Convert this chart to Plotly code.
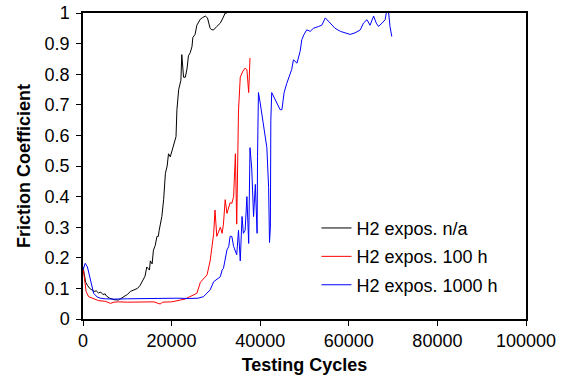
import plotly.graph_objects as go

# Black: no H2 exposure
na_x = [0, 300, 600, 1000, 1500, 2000, 2500, 3000, 3500, 4000, 4500, 5000, 5300, 6000, 7000, 8000,
        9000, 10000, 10700, 11500, 12300, 12900, 13500, 14000, 14400, 15000, 15200, 15600, 15900,
        16300, 16700, 17000, 17200, 17800, 18200, 18600, 19000, 19300, 19700, 20100, 20600, 21000,
        21200, 21600, 22100, 22300, 22700, 23100, 23500, 23800, 24200, 24600, 24800, 25300, 25700,
        26500, 27000, 27600, 28100, 28400, 28700, 29100, 29500, 30200, 31000, 31600, 32100, 32500]
na_y = [0.17, 0.14, 0.12, 0.11, 0.10, 0.095, 0.09, 0.092, 0.085, 0.088, 0.08, 0.082, 0.075, 0.068, 0.063, 0.062,
        0.07, 0.08, 0.09, 0.095, 0.10, 0.11, 0.125, 0.14, 0.17, 0.16, 0.19, 0.18, 0.225,
        0.24, 0.27, 0.27, 0.29, 0.335, 0.39, 0.476, 0.50, 0.54, 0.53, 0.553, 0.575, 0.596,
        0.684, 0.75, 0.78, 0.864, 0.79, 0.79, 0.82, 0.86, 0.87, 0.89, 0.92, 0.93, 0.96,
        0.98, 0.985, 0.99, 0.984, 0.97, 0.95, 0.945, 0.945, 0.956, 0.967, 0.984, 1.0, 1.0]

# Red: 100 h H2 exposure
h100_x = [0, 300, 700, 1260, 2000, 2400, 3500, 5000, 6200, 7000, 8000, 10000, 12000, 14000, 16000,
          17400, 18000, 20000, 21000, 22000, 23000, 24200, 25000, 25700, 26500, 27200, 28000, 28700,
          29500, 29800, 30200, 31000, 31400, 31700, 32100, 32500, 33200, 33600, 34000, 34400, 34700,
          35100, 35500, 36100, 36600, 37000, 37400, 37700]
h100_y = [0.17, 0.13, 0.09, 0.073, 0.068, 0.065, 0.06, 0.058, 0.051, 0.055, 0.056, 0.055, 0.056, 0.057, 0.056,
          0.049, 0.055, 0.056, 0.058, 0.062, 0.065, 0.073, 0.078, 0.084, 0.12, 0.133, 0.144, 0.19,
          0.28, 0.356, 0.27, 0.30, 0.28, 0.31, 0.39, 0.345, 0.38, 0.378, 0.40, 0.54, 0.31,
          0.68, 0.79, 0.81, 0.82, 0.815, 0.74, 0.853]

# Blue: 1000 h H2 exposure
h1000_x = [0, 500, 1000, 1600, 2400, 3200, 3900, 5000, 7000, 10000, 13000, 16000, 19000, 21200,
           24000, 26000, 27200, 28000, 28700, 29500, 30200, 31000, 31400, 31700, 32500, 32900, 33200,
           33600, 34000, 34700, 35100, 35500, 35900, 36200, 36600, 37000, 37400, 37700, 38100, 38500,
           38900, 39300, 39400, 39600, 40000, 40700, 41500, 41900, 42100, 42300, 42400, 42600, 43400,
           44100, 44500, 44900, 45400, 46000, 46400, 47100, 47500, 48300, 49000, 49400, 49900, 50500,
           51300, 52000, 53200, 53900, 54700, 55800, 56900, 58100, 59200, 60300, 61400, 62600, 63300,
           64100, 64800, 65600, 66200, 66700, 67500, 68200, 68700, 69000, 69300, 69700]
h1000_y = [0.16, 0.182, 0.17, 0.128, 0.084, 0.072, 0.068, 0.066, 0.065, 0.066, 0.067, 0.066, 0.067, 0.068,
           0.067, 0.068, 0.073, 0.085, 0.095, 0.122, 0.13, 0.138, 0.16, 0.165, 0.226, 0.237, 0.27,
           0.27, 0.237, 0.21, 0.29, 0.19, 0.335, 0.28, 0.29, 0.40, 0.247, 0.56, 0.49, 0.335,
           0.44, 0.28, 0.53, 0.74, 0.706, 0.63, 0.56, 0.43, 0.25, 0.30, 0.65, 0.74, 0.716,
           0.695, 0.684, 0.684, 0.74, 0.77, 0.787, 0.815, 0.847, 0.836, 0.874, 0.913, 0.93, 0.945,
           0.94, 0.95, 0.956, 0.96, 0.984, 0.967, 0.95, 0.94, 0.935, 0.93, 0.935, 0.945, 0.967,
           0.978, 0.96, 0.99, 0.967, 0.956, 0.967, 0.978, 1.02, 1.0, 0.956, 0.923]

names = ["H2 expos. n/a", "H2 expos. 100 h", "H2 expos. 1000 h"]
colors = ["#000000", "#ff0000", "#0000ff"]

x_ticks = [0, 20000, 40000, 60000, 80000, 100000]
y_ticks = [0, 0.1, 0.2, 0.3, 0.4, 0.5, 0.6, 0.7, 0.8, 0.9, 1]

font = "Arial, Liberation Sans, sans-serif"
FS = 18

fig = go.Figure()
for i, (xs, ys) in enumerate([(na_x, na_y), (h100_x, h100_y), (h1000_x, h1000_y)]):
    fig.add_trace(go.Scatter(x=xs, y=ys, mode="lines", name=names[i],
                             line=dict(color=colors[i], width=1),
                             legendgroup=str(i)))

fig.update_layout(
    width=561, height=387,
    margin=dict(l=83, r=35, t=13, b=68),
    paper_bgcolor="white", plot_bgcolor="white",
    font=dict(family=font, size=FS, color="black"),
    showlegend=True,
    legend=dict(x=0.527, y=0.357, xanchor="left", yanchor="top",
                bgcolor="rgba(0,0,0,0)", font=dict(size=FS, family=font),
                tracegroupgap=2, itemwidth=30),
    xaxis=dict(range=[0, 100000], tickvals=x_ticks, ticktext=[str(v) for v in x_ticks],
               showgrid=False, zeroline=False, showline=True, linecolor="black", linewidth=1.5,
               mirror=True, ticks="outside", ticklen=5, tickcolor="black", automargin=False,
               title=dict(text="<b>Testing Cycles</b>", font=dict(size=FS), standoff=8)),
    yaxis=dict(range=[0, 1], tickvals=y_ticks, ticktext=["0", "0.1", "0.2", "0.3", "0.4", "0.5",
                                                         "0.6", "0.7", "0.8", "0.9", "1"],
               showgrid=False, zeroline=False, showline=True, linecolor="black", linewidth=1.5,
               mirror=True, ticks="outside", ticklen=5, tickcolor="black", automargin=False,
               ticklabelstandoff=3,
               title=dict(text="<b>Friction Coefficient</b>", font=dict(size=FS), standoff=9)),
)

fig.write_html("out.html")
